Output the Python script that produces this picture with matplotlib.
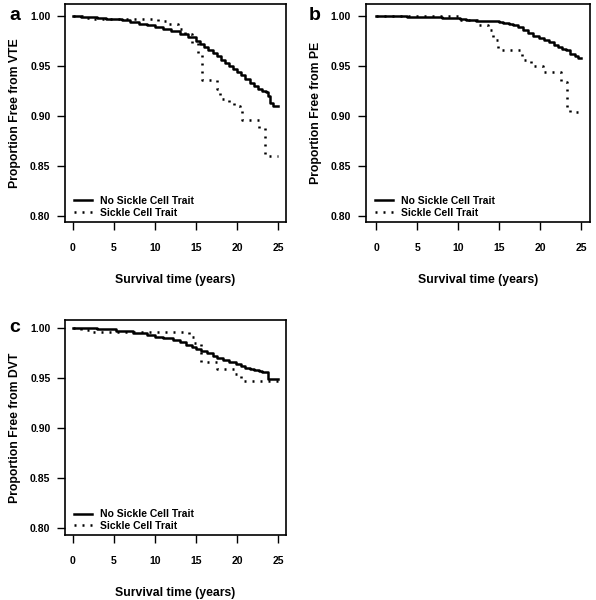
import numpy as np
import matplotlib.pyplot as plt

plt.rcParams['font.family'] = ['Liberation Sans', 'DejaVu Sans']
plt.rcParams['font.weight'] = 'bold'

# panel a: VTE
a_no_t = [0, 1, 2, 3, 4, 5, 6, 7, 8, 9, 10, 11, 12, 13, 14, 15, 15.5, 16, 16.5, 17, 17.5,
          18, 18.5, 19, 19.5, 20, 20.5, 21, 21.5, 22, 22.5, 23, 23.5, 23.8, 24.0, 24.4, 25]
a_no_s = [1.000, 0.9995, 0.999, 0.998, 0.9975, 0.997, 0.996, 0.994, 0.992, 0.991, 0.989,
          0.987, 0.985, 0.982, 0.979, 0.975, 0.972, 0.969, 0.966, 0.963, 0.960, 0.956, 0.953,
          0.950, 0.947, 0.944, 0.941, 0.937, 0.933, 0.930, 0.927, 0.925, 0.924, 0.920, 0.913,
          0.910, 0.910]
a_sct_t = [0, 1.7, 2.4, 10.4, 11.5, 12.8, 13.6, 14.5, 15.2, 15.7, 17.6, 17.9, 19.0, 19.6,
           20.3, 20.6, 22.7, 23.4, 25]
a_sct_s = [1.000, 0.998, 0.997, 0.995, 0.992, 0.987, 0.982, 0.973, 0.962, 0.936, 0.927,
           0.917, 0.913, 0.910, 0.905, 0.896, 0.888, 0.860, 0.860]

# panel b: PE
b_no_t = [0, 3.7, 6, 8, 10.2, 11, 12.2, 15.0, 15.5, 16.2, 16.7, 17.3, 17.9, 18.5, 19.1,
          19.9, 20.5, 21.1, 21.7, 22.2, 22.7, 23.2, 23.6, 24.3, 24.6, 25]
b_no_s = [1.000, 0.9995, 0.999, 0.998, 0.997, 0.996, 0.995, 0.994, 0.993, 0.992, 0.991,
          0.989, 0.986, 0.983, 0.980, 0.978, 0.976, 0.974, 0.971, 0.969, 0.967, 0.966,
          0.962, 0.960, 0.958, 0.958]
b_sct_t = [0, 10.2, 12.4, 13.6, 14.2, 14.9, 17.8, 18.9, 20.3, 22.6, 23.3, 23.6, 25]
b_sct_s = [1.000, 0.996, 0.991, 0.986, 0.976, 0.966, 0.956, 0.950, 0.944, 0.934, 0.907,
           0.904, 0.904]

# panel c: DVT
c_no_t = [0, 2.9, 5.3, 7.3, 9, 10, 11, 12.2, 13, 13.8, 14.5, 15, 15.6, 16.3, 17, 17.5,
          18.3, 19, 19.8, 20.5, 21, 21.5, 22, 22.7, 23.0, 23.8, 25]
c_no_s = [1.000, 0.999, 0.997, 0.995, 0.993, 0.991, 0.990, 0.988, 0.986, 0.983, 0.981,
          0.979, 0.977, 0.975, 0.972, 0.970, 0.968, 0.966, 0.964, 0.962, 0.960, 0.959,
          0.958, 0.957, 0.956, 0.949, 0.949]
c_sct_t = [0, 1.0, 2.1, 14.1, 14.8, 15.65, 17.5, 19.7, 20.5, 25]
c_sct_s = [1.000, 0.998, 0.996, 0.991, 0.985, 0.966, 0.959, 0.954, 0.947, 0.947]

labels = ['No Sickle Cell Trait', 'Sickle Cell Trait']
yticks = [0.80, 0.85, 0.90, 0.95, 1.00]
xticks = [0, 5, 10, 15, 20, 25]

fig = plt.figure(figsize=(5.96, 6.0), dpi=100)

panels = [
    ('a', 'Proportion Free from VTE', [0.1091, 0.63, 0.3708, 0.3633], (-0.94, 25.94), (0.794, 1.012),
     a_no_t, a_no_s, a_sct_t, a_sct_s, (15, 15)),
    ('b', 'Proportion Free from PE', [0.6136, 0.63, 0.3763, 0.3633], (-1.29, 26.09), (0.794, 1.012),
     b_no_t, b_no_s, b_sct_t, b_sct_s, (315, 15)),
    ('c', 'Proportion Free from DVT', [0.1091, 0.1083, 0.3708, 0.3583], (-0.94, 25.94), (0.793, 1.0077),
     c_no_t, c_no_s, c_sct_t, c_sct_s, (15, 328)),
]

for letter, ylab, rect, xl, yl, t1, s1, t2, s2, lpos in panels:
    ax = fig.add_axes(rect)
    l1, = ax.step(t1, s1, where='post', color='black', lw=1.8)
    l2, = ax.step(t2, s2, where='post', color='black', lw=1.8, linestyle=(0, (0.8, 2.4)))
    ax.set_xlim(*xl)
    ax.set_ylim(*yl)
    ax.set_xticks(xticks)
    ax.set_yticks(yticks)
    ax.set_yticklabels(['%.2f' % v for v in yticks])
    ax.tick_params(axis='x', length=6, width=1, pad=9, labelsize=7.5)
    ax.tick_params(axis='y', length=6, width=1, pad=4.5, labelsize=7.5)
    for sp in ax.spines.values():
        sp.set_linewidth(1.2)
    ax.set_xlabel('Survival time (years)', fontsize=8.8, fontweight='bold', labelpad=15)
    ax.set_ylabel(ylab, fontsize=8.8, fontweight='bold', labelpad=6.5)
    ax.legend([l1, l2], labels, loc='lower left', bbox_to_anchor=(0.04, 0.02),
              frameon=False, fontsize=7.5, handlelength=1.75, handletextpad=0.8,
              labelspacing=0.15, borderpad=0, borderaxespad=0)
    fig.text(lpos[0] / 596, 1 - lpos[1] / 600, letter, fontsize=14, fontweight='bold',
             ha='center', va='center')

plt.savefig('out.png', dpi=100)
